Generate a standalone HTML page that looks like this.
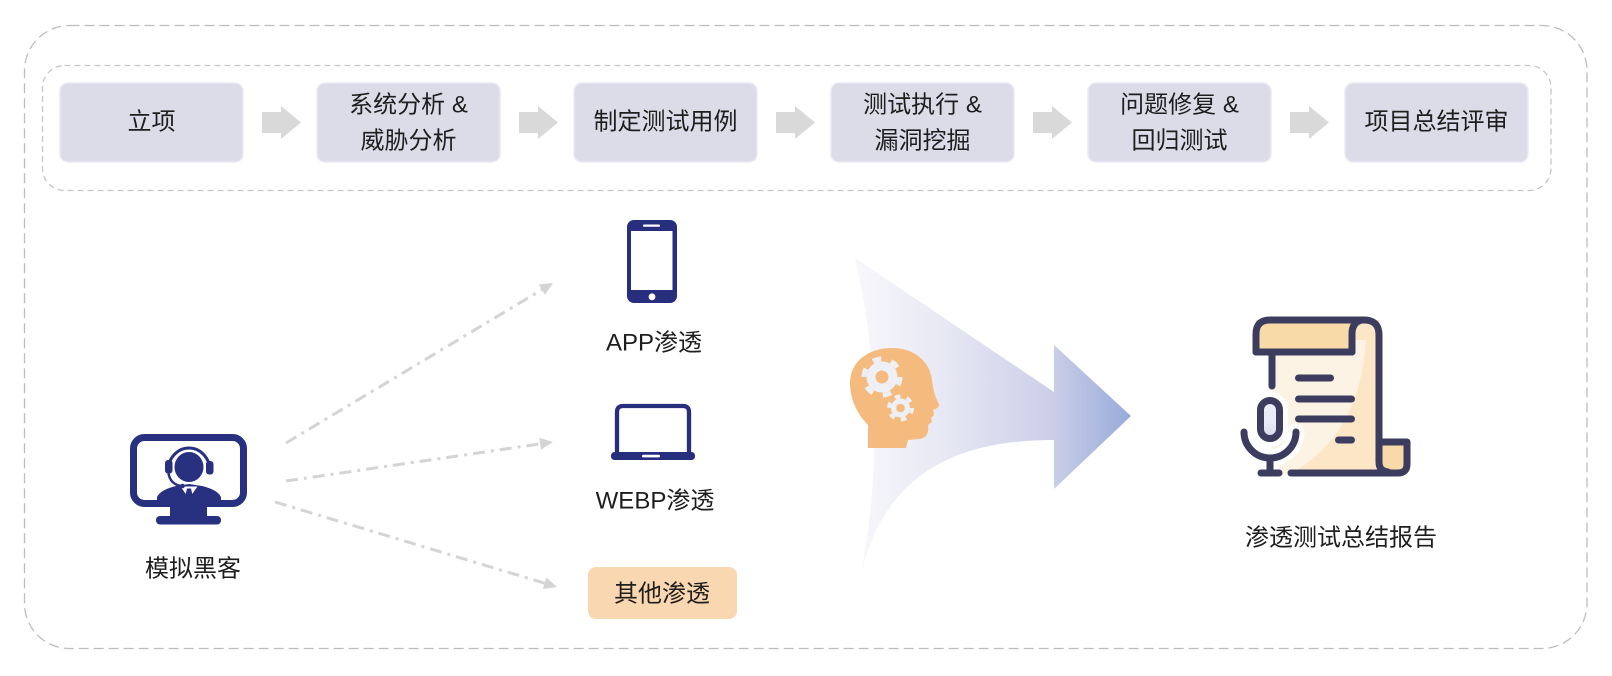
<!DOCTYPE html>
<html>
<head>
<meta charset="utf-8">
<style>
  html,body{margin:0;padding:0;background:#fff;}
  body{width:1612px;height:676px;overflow:hidden;}
  svg{display:block;}
  text{font-family:"Liberation Sans","Noto Sans CJK SC",sans-serif;fill:#1e1e1e;}
</style>
</head>
<body>
<svg width="1612" height="676" viewBox="0 0 1612 676" xmlns="http://www.w3.org/2000/svg">
  <defs>
    <linearGradient id="bigArrow" gradientUnits="userSpaceOnUse" x1="852" y1="0" x2="1131" y2="0">
      <stop offset="0" stop-color="#f8f8fc"/>
      <stop offset="0.35" stop-color="#e6e7f3"/>
      <stop offset="0.72" stop-color="#cbcee8"/>
      <stop offset="1" stop-color="#96abd9"/>
    </linearGradient>
    <linearGradient id="micFill" x1="0" y1="0" x2="0" y2="1">
      <stop offset="0" stop-color="#edf0f8"/>
      <stop offset="0.6" stop-color="#e6ebf5"/>
      <stop offset="1" stop-color="#d2dae7"/>
    </linearGradient>
  </defs>

  <!-- outer dashed frame -->
  <rect x="24.5" y="25.5" width="1562.5" height="623" rx="45" ry="45" fill="none" stroke="#bdbdbd" stroke-width="1.3" stroke-dasharray="10 5"/>
  <!-- inner dashed frame -->
  <rect x="42.5" y="65.5" width="1508.5" height="125" rx="22" ry="22" fill="none" stroke="#c6c6c6" stroke-width="1.3" stroke-dasharray="6 4"/>

  <!-- step boxes -->
  <g fill="#dcdce8" stroke="#eaeaf2" stroke-width="1.5">
    <rect x="60" y="83" width="183" height="79" rx="8"/>
    <rect x="317" y="83" width="183" height="79" rx="8"/>
    <rect x="574" y="83" width="183" height="79" rx="8"/>
    <rect x="831" y="83" width="183" height="79" rx="8"/>
    <rect x="1088" y="83" width="183" height="79" rx="8"/>
    <rect x="1345" y="83" width="183" height="79" rx="8"/>
  </g>
  <!-- step arrows -->
  <g fill="#d9d9d9">
    <path d="M262,112 L281,112 L281,106 L301,122.5 L281,139 L281,133 L262,133 Z"/>
    <path d="M519,112 L538,112 L538,106 L558,122.5 L538,139 L538,133 L519,133 Z"/>
    <path d="M776,112 L795,112 L795,106 L815,122.5 L795,139 L795,133 L776,133 Z"/>
    <path d="M1033,112 L1052,112 L1052,106 L1072,122.5 L1052,139 L1052,133 L1033,133 Z"/>
    <path d="M1290,112 L1309,112 L1309,106 L1329,122.5 L1309,139 L1309,133 L1290,133 Z"/>
  </g>
  <!-- step labels -->
  <g font-size="24" text-anchor="middle" dominant-baseline="central">
    <text x="151.5" y="122">立项</text>
    <text x="408.5" y="105">系统分析 &amp;</text>
    <text x="408.5" y="141">威胁分析</text>
    <text x="665.5" y="122">制定测试用例</text>
    <text x="922.5" y="105">测试执行 &amp;</text>
    <text x="922.5" y="141">漏洞挖掘</text>
    <text x="1179.5" y="105">问题修复 &amp;</text>
    <text x="1179.5" y="141">回归测试</text>
    <text x="1436.5" y="122">项目总结评审</text>
  </g>

  <!-- hacker icon -->
  <g fill="#283080">
    <rect x="133.5" y="437.5" width="110" height="66" rx="11" fill="#fff" stroke="#283080" stroke-width="7"/>
    <rect x="170" y="505" width="37" height="12"/>
    <rect x="156" y="516" width="65" height="8.5" rx="4"/>
    <path d="M157,503 L157,497 C160,491 168,488 176,486 L189,484 L202,486 C210,488 218,491 221,497 L221,503 Z"/>
    <polygon points="180.5,486.5 197.5,486.5 189,498.5" fill="#fff"/>
    <polygon points="187,488.5 191,488.5 192.5,495 189,499.5 185.5,495"/>
    <ellipse cx="189" cy="467" rx="14.5" ry="15"/>
    <path d="M168,471 A21,23 0 0 1 210,471" fill="none" stroke="#283080" stroke-width="3"/>
    <rect x="165" y="460" width="7.5" height="13.5" rx="3"/>
    <rect x="206" y="461" width="7.5" height="13.5" rx="3"/>
    <path d="M168.5,473 Q170,484 181,486" fill="none" stroke="#283080" stroke-width="2.5"/>
    <circle cx="182.5" cy="486" r="2.3"/>
  </g>
  <text x="193" y="569" font-size="24" text-anchor="middle" dominant-baseline="central">模拟黑客</text>

  <!-- dash-dot connectors -->
  <g stroke="#d4d4d4" stroke-width="3" fill="none" stroke-dasharray="12 6 3 6">
    <line x1="286" y1="443" x2="541.8" y2="289.7"/>
    <line x1="286" y1="481" x2="540.1" y2="443.9"/>
    <line x1="275" y1="502" x2="544.5" y2="583.2"/>
  </g>
  <g fill="#d4d4d4">
    <polygon points="553,283 544.9,294.8 538.8,284.5"/>
    <polygon points="553,442 541.0,449.8 539.3,437.9"/>
    <polygon points="557,587 542.8,589.0 546.3,577.5"/>
  </g>

  <!-- phone -->
  <g>
    <rect x="627" y="220" width="50" height="83" rx="7" fill="#272e7e"/>
    <rect x="631" y="231" width="41.5" height="59" fill="#fff"/>
    <rect x="643" y="224.5" width="17" height="2.3" rx="1.1" fill="#fff"/>
    <circle cx="652" cy="296.8" r="3.4" fill="#fff"/>
  </g>
  <text x="654" y="343" font-size="24" text-anchor="middle" dominant-baseline="central">APP渗透</text>

  <!-- laptop -->
  <g>
    <path d="M617,452 L617,412 Q617,406 623,406 L683,406 Q689,406 689,412 L689,452" fill="none" stroke="#272e7e" stroke-width="4.3"/>
    <rect x="611" y="452" width="84" height="8" rx="3.5" fill="#272e7e"/>
    <rect x="642" y="454.8" width="18" height="2.6" rx="1.2" fill="#fff"/>
  </g>
  <text x="655" y="501" font-size="24" text-anchor="middle" dominant-baseline="central">WEBP渗透</text>

  <!-- other box -->
  <rect x="588" y="567" width="149" height="52" rx="8" fill="#f9d7b0"/>
  <text x="662" y="594" font-size="24" text-anchor="middle" dominant-baseline="central">其他渗透</text>

  <!-- big gradient arrow -->
  <path d="M855,258 L1054,392 L1054,345 L1131,416 L1054,489 L1054,440 C960,440 880,470 858,588 Q893,423 855,258 Z" fill="url(#bigArrow)"/>

  <!-- head with gears -->
  <path d="M868,448 L868,425 C858,415 850,400 850,383 C850,362 868,348 892,348 C915,348 930,362 932,380 C933,390 935,397 939,404 C940,407 936,409 933,410 L934,415 L931,418 L932,422 L928,425 C929,433 927,437 920,439 L908,440 L906,448 Z" fill="#f5bb7e"/>
  <g fill="#eef0f6">
    <circle cx="882" cy="377" r="15.5"/>
    <circle cx="882" cy="377" r="18" fill="none" stroke="#eef0f6" stroke-width="5" stroke-dasharray="8.5 10.35"/>
    <circle cx="900.5" cy="408" r="9.5"/>
    <circle cx="900.5" cy="408" r="11.5" fill="none" stroke="#eef0f6" stroke-width="4" stroke-dasharray="5.5 6.54"/>
  </g>
  <circle cx="882" cy="377" r="6.5" fill="#f5bb7e"/>
  <circle cx="900.5" cy="408" r="4.3" fill="#f5bb7e"/>

  <!-- document icon -->
  <g>
    <!-- body fills -->
    <rect x="1272" y="320" width="107" height="153" fill="#fce6c6"/>
    <path d="M1272,340 L1366,340 C1362,400 1340,445 1292,473 L1272,473 Z" fill="#fdf3e4"/>
    <rect x="1256" y="320" width="96" height="32" fill="#f8d9a8"/>
    <path d="M1381,442 L1407,442 L1407,464 Q1407,473 1398,473 L1389,473 Q1381,473 1381,465 Z" fill="#f8d9a8"/>
    <!-- outlines -->
    <g fill="none" stroke="#3c3c5f" stroke-width="7" stroke-linecap="round" stroke-linejoin="round">
      <path d="M1256,352 L1256,334 Q1256,320 1270,320 L1364,320 Q1379,320 1379,335 L1379,462 Q1379,471 1388,472"/>
      <path d="M1256,352 L1352,352"/>
      <path d="M1352,352 L1352,334 Q1352,322 1362,320"/>
      <path d="M1379,442 L1407,442 L1407,464 Q1407,473 1398,473 L1291,473"/>
      <path d="M1272,352 L1272,386"/>
      <path d="M1298.5,378 L1330.5,378"/>
      <path d="M1298.5,399 L1351.5,399"/>
      <path d="M1298.5,419 L1351.5,419"/>
      <path d="M1338.5,440 L1351.5,440"/>
    </g>
    <!-- mic halo -->
    <g fill="none" stroke="#fff" stroke-width="17" stroke-linecap="round">
      <rect x="1260.5" y="400.5" width="19" height="38" rx="9.5"/>
      <path d="M1244,432 A26,26 0 0 0 1296,432"/>
      <path d="M1270,458 L1270,471"/>
    </g>
    <!-- mic -->
    <rect x="1260.5" y="400.5" width="19" height="38" rx="9.5" fill="url(#micFill)" stroke="#3c3c5f" stroke-width="7"/>
    <g fill="none" stroke="#3c3c5f" stroke-width="7" stroke-linecap="round">
      <path d="M1244,432 A26,26 0 0 0 1296,432"/>
      <path d="M1270,458 L1270,471"/>
      <path d="M1261,473 L1279,473"/>
    </g>
  </g>
  <text x="1341" y="538" font-size="24" text-anchor="middle" dominant-baseline="central">渗透测试总结报告</text>
</svg>
</body>
</html>
